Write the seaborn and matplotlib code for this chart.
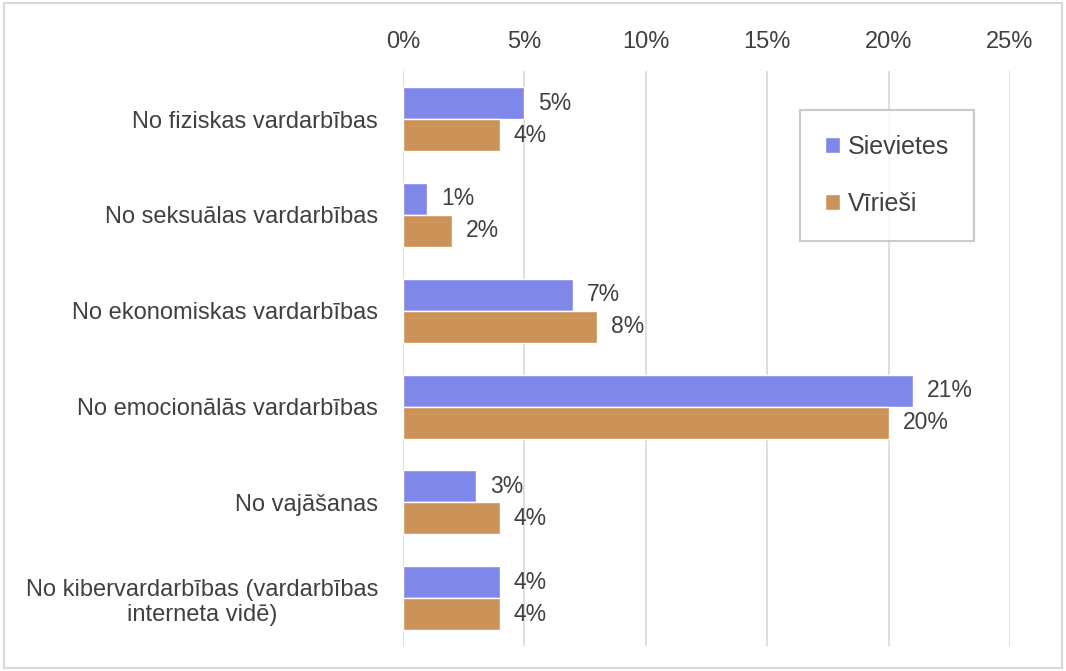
import pandas as pd
import matplotlib.pyplot as plt
import seaborn as sns
from matplotlib.patches import Rectangle
from matplotlib.ticker import PercentFormatter

# ---------- DATA ----------
categories = [
    'No fiziskas vardarbības',
    'No seksuālas vardarbības',
    'No ekonomiskas vardarbības',
    'No emocionālās vardarbības',
    'No vajāšanas',
    'No kibervardarbības (vardarbības\ninterneta vidē)',
]
sievietes = [5, 1, 7, 21, 3, 4]
virieši = [4, 2, 8, 20, 4, 4]
series_names = ['Sievietes', 'Vīrieši']
colors = ['#7F87E8', '#CC9358']
x_ticks = [0, 5, 10, 15, 20, 25]

df = pd.DataFrame({
    'Kategorija': categories * 2,
    'Dzimums': [series_names[0]] * len(categories) + [series_names[1]] * len(categories),
    'Vertiba': sievietes + virieši,
})

# ---------- PLOT ----------
sns.set_style("white")
plt.rcParams['font.family'] = ['Liberation Sans', 'DejaVu Sans']
text_color = '#404040'

fig = plt.figure(figsize=(10.66, 6.71), dpi=100)
ax = fig.add_axes([0.378, 0.037, 0.5695, 0.857])

sns.barplot(data=df, y='Kategorija', x='Vertiba', hue='Dzimums',
            palette=colors, orient='h', width=0.667, ax=ax,
            saturation=1, legend=True)

for cont in ax.containers:
    ax.bar_label(cont, labels=[f'{v:.0f}%' for v in cont.datavalues],
                 padding=10, fontsize=16.5, color=text_color)

ax.set_xlim(0, 25)
ax.set_xticks(x_ticks)
ax.xaxis.set_major_formatter(PercentFormatter(decimals=0))
ax.xaxis.tick_top()
ax.tick_params(axis='both', length=0, labelsize=17, labelcolor=text_color)
ax.tick_params(axis='x', pad=13)
ax.tick_params(axis='y', pad=18)
for lbl in ax.get_yticklabels():
    lbl.set_multialignment('center')
ax.set_xlabel('')
ax.set_ylabel('')
ax.grid(axis='x', color='#D9D9D9', linewidth=1.2)
ax.set_axisbelow(True)
for s in ax.spines.values():
    s.set_visible(False)

leg = ax.legend(loc='upper left', bbox_to_anchor=(0.654, 0.932),
                borderaxespad=0, fancybox=False, frameon=True,
                fontsize=18, labelspacing=1.3, handlelength=0.6,
                handleheight=0.6, handletextpad=0.3, borderpad=1.0)
leg.get_frame().set_edgecolor('#BFBFBF')
leg.get_frame().set_linewidth(1.5)
for t in leg.get_texts():
    t.set_color(text_color)

fig.patches.append(Rectangle((0.004, 0.004), 0.992, 0.992, transform=fig.transFigure,
                             fill=False, edgecolor='#D9D9D9', linewidth=1.5))

fig.savefig('out.png', dpi=100)
